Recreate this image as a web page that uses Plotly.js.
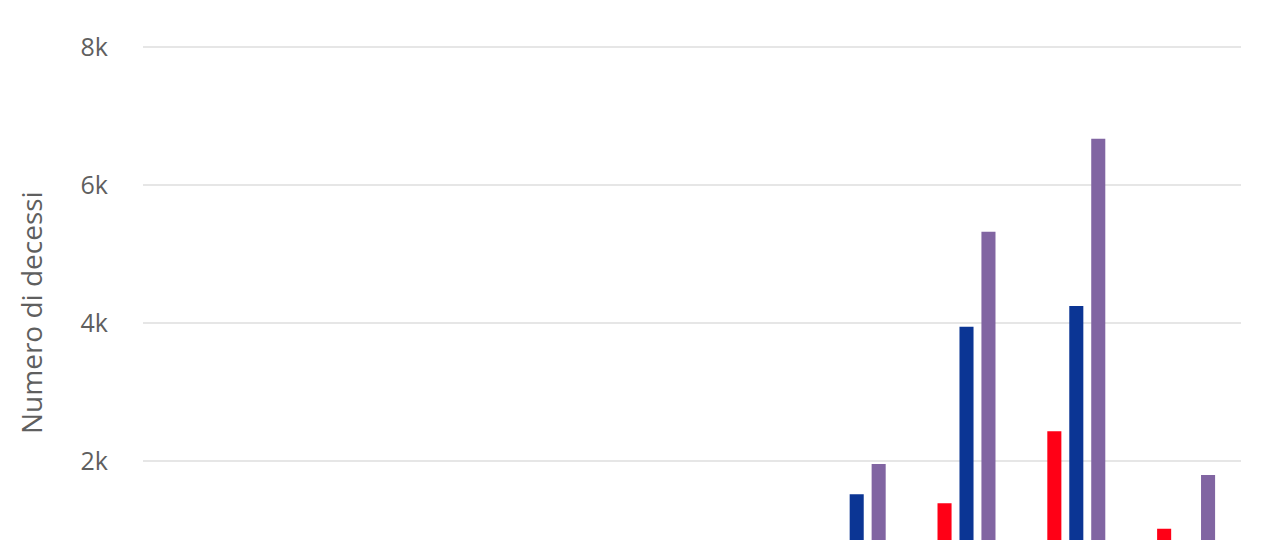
<!DOCTYPE html>
<html>
<head>
<meta charset="utf-8">
<script src="https://cdn.plot.ly/plotly-3.0.1.min.js"></script>
<style>
  html, body { margin: 0; padding: 0; background: #ffffff; }
  #chart { width: 1261px; height: 540px; }
</style>
</head>
<body>
<div id="chart"></div>
<script>
// Age groups (x categories)
const ageGroups = ['0-9', '10-19', '20-29', '30-39', '40-49', '50-59', '60-69', '70-79', '80-89', '90+'];

// Deaths per age group
const donne = [1, 0, 3, 12, 45, 140, 440, 1387, 2430, 1019];
const uomini = [0, 0, 7, 30, 115, 420, 1517, 3946, 4246, 778];
const totale = [1, 0, 10, 42, 160, 560, 1957, 5323, 6670, 1797];

const seriesNames = ['Donne', 'Uomini', 'Totale'];
const seriesColors = ['#ff0016', '#0b3594', '#8165a2'];

function makeBar(name, values, color) {
    return {
        type: 'bar',
        name: name,
        x: ageGroups,
        y: values,
        marker: { color: color, line: { width: 0 } },
        hovertemplate: '%{x}: %{y}<extra>' + name + '</extra>'
    };
}

const traces = [
    makeBar(seriesNames[0], donne, seriesColors[0]),
    makeBar(seriesNames[1], uomini, seriesColors[1]),
    makeBar(seriesNames[2], totale, seriesColors[2])
];

const layout = {
    width: 1261,
    height: 540,
    margin: { t: 27, l: 143, r: 20, b: 0 },
    paper_bgcolor: '#ffffff',
    plot_bgcolor: '#ffffff',
    font: { family: '"Open Sans", "Noto Sans", sans-serif', color: '#5f5f5f' },
    barmode: 'group',
    bargap: 0.4,
    bargroupgap: 0.36,
    showlegend: false,
    xaxis: {
        type: 'category',
        showticklabels: false,
        showgrid: false,
        zeroline: false,
        showline: false,
        automargin: false
    },
    yaxis: {
        range: [855, 8290],
        tickvals: [2000, 4000, 6000, 8000],
        ticktext: ['2k', '4k', '6k', '8k'],
        tickfont: { size: 25, color: '#5f5f5f' },
        ticklabelstandoff: 34,
        showgrid: true,
        gridcolor: '#e6e6e6',
        gridwidth: 2,
        zeroline: false,
        showline: false,
        automargin: false
    },
    annotations: [{
        text: 'Numero di decessi',
        xref: 'paper',
        yref: 'paper',
        x: -0.102,
        y: 0.4425,
        xanchor: 'center',
        yanchor: 'middle',
        textangle: -90,
        showarrow: false,
        font: { size: 28, color: '#5f5f5f' }
    }]
};

Plotly.newPlot('chart', traces, layout, { displayModeBar: false, staticPlot: true });
</script>
</body>
</html>
